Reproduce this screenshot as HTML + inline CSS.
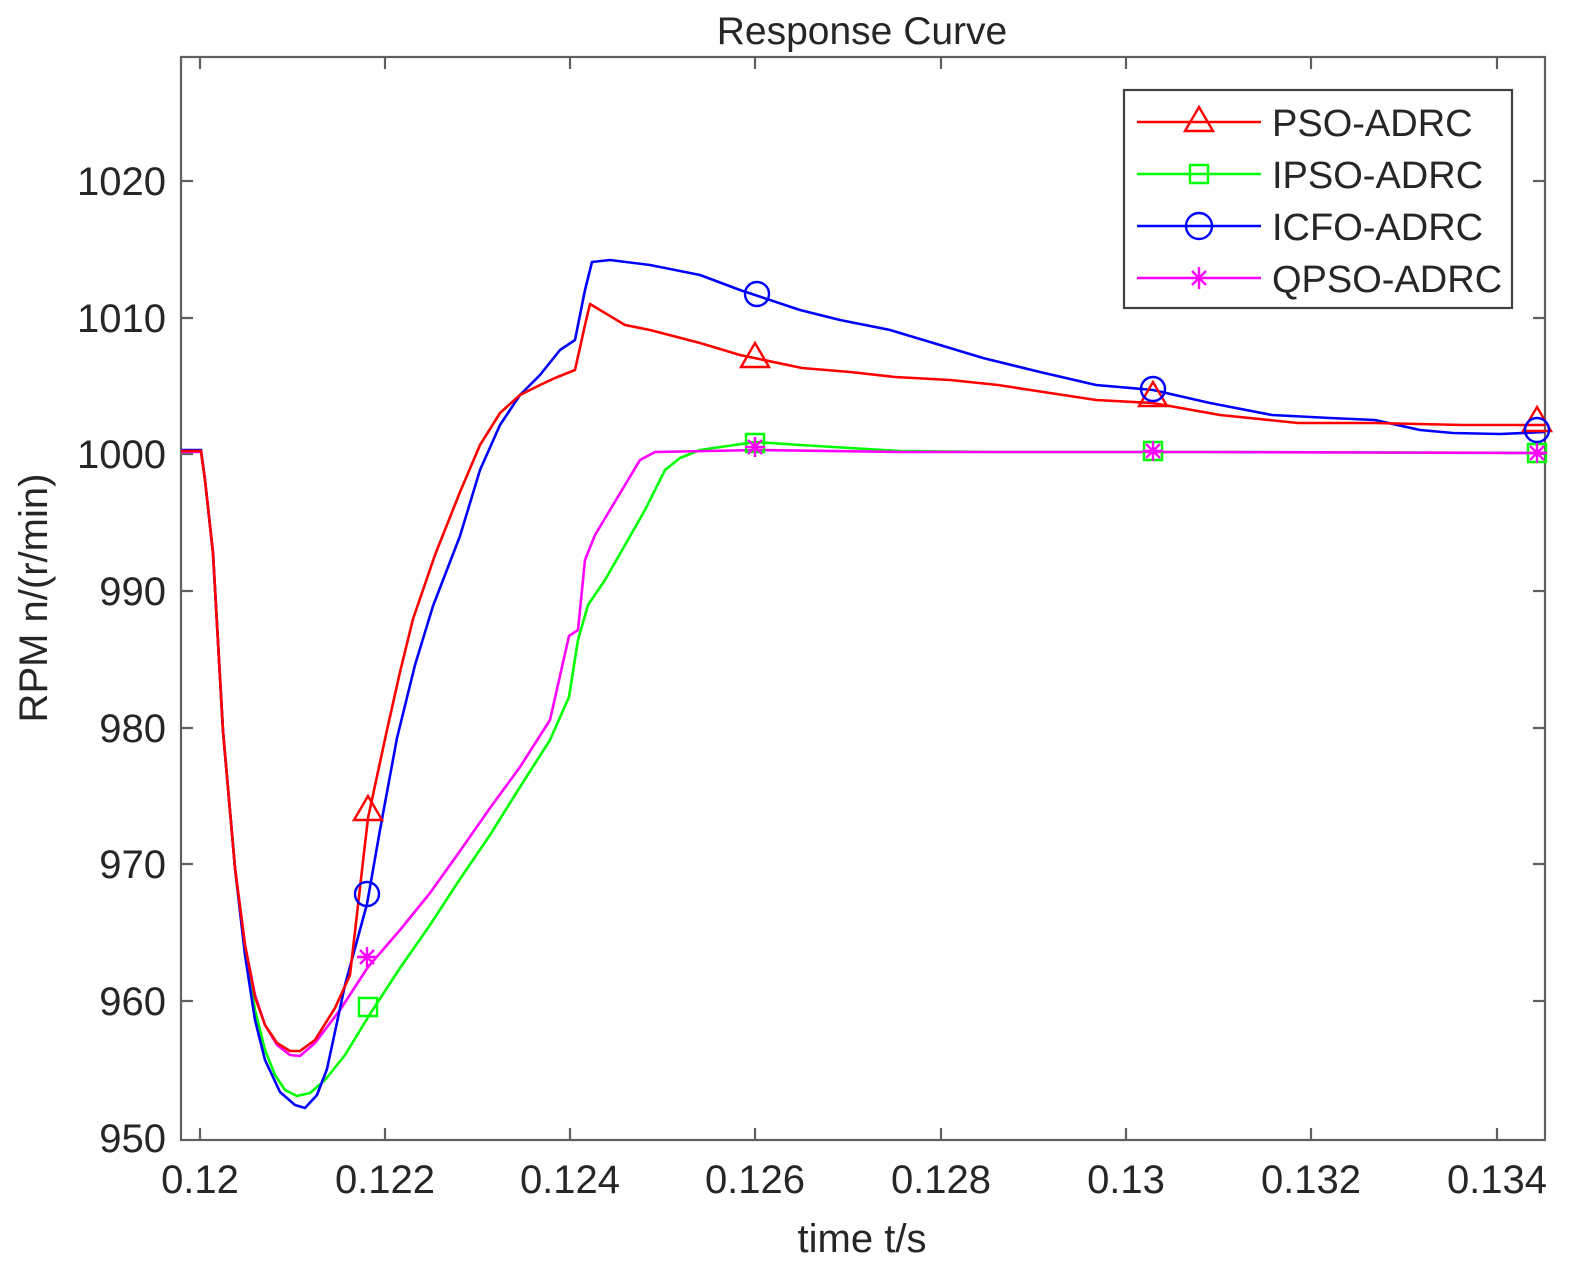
<!DOCTYPE html>
<html><head><meta charset="utf-8"><style>body{margin:0;background:#fff}svg text{font-family:"Liberation Sans",Arial,sans-serif;fill:#262626}</style></head>
<body>
<svg width="1582" height="1279" viewBox="0 0 1582 1279" xmlns="http://www.w3.org/2000/svg">
<rect width="1582" height="1279" fill="#fff"/>
<text x="862" y="44" font-size="39" text-anchor="middle" fill="#000">Response Curve</text>
<g stroke="#606060" stroke-width="2.2" fill="none">
<rect x="181" y="57" width="1364" height="1083"/>
<path d="M200 1140v-12M385 1140v-12M570 1140v-12M755 1140v-12M941 1140v-12M1126 1140v-12M1311 1140v-12M1497 1140v-12
M200 57v12M385 57v12M570 57v12M755 57v12M941 57v12M1126 57v12M1311 57v12M1497 57v12
M181 181h12M181 318h12M181 454h12M181 591h12M181 728h12M181 864h12M181 1001h12
M1545 181h-12M1545 318h-12M1545 454h-12M1545 591h-12M1545 728h-12M1545 864h-12M1545 1001h-12"/>
</g>
<g font-size="40" text-anchor="middle">
<text x="200" y="1193">0.12</text><text x="385" y="1193">0.122</text><text x="570" y="1193">0.124</text><text x="755" y="1193">0.126</text><text x="941" y="1193">0.128</text><text x="1126" y="1193">0.13</text><text x="1311" y="1193">0.132</text><text x="1497" y="1193">0.134</text>
</g>
<g font-size="40" text-anchor="end">
<text x="166" y="195">1020</text><text x="166" y="332">1010</text><text x="166" y="468">1000</text><text x="166" y="605">990</text><text x="166" y="742">980</text><text x="166" y="878">970</text><text x="166" y="1015">960</text><text x="166" y="1152">950</text>
</g>
<text x="862" y="1252" font-size="40" text-anchor="middle">time t/s</text>
<text transform="translate(47,598) rotate(-90)" font-size="40" text-anchor="middle">RPM n/(r/min)</text>
<g fill="none" stroke-width="2.6" stroke-linejoin="round">
<polyline stroke="#00ff00" points="181,452 201,452 205,480 213,553 223,731 235,868 245,950 255,1010 265,1050 275,1075 285,1090 297,1096 310,1093 325,1080 345,1055 370,1014 400,968 430,925 460,879 490,835 520,787 550,740 569,697 578,640 588,605 605,580 625,545 645,510 665,470 680,458 700,450 755,442 800,445 900,451 1000,452 1200,452 1545,453"/>
<polyline stroke="#ff00ff" points="181,452 201,452 205,480 213,553 223,731 235,868 245,945 255,995 265,1025 277,1045 290,1055 300,1056 315,1043 340,1010 368,967 400,930 430,893 460,851 490,808 520,767 550,720 569,636 578,630 585,560 595,535 610,510 625,485 640,460 655,452 760,450 900,452 1200,452 1545,453"/>
<polyline stroke="#0000ff" points="181,450 201,450 205,480 213,553 223,731 235,868 245,955 255,1020 265,1060 280,1092 295,1105 305,1108 317,1095 327,1069 345,985 367,904 380,830 397,738 415,665 433,606 460,536 480,470 500,425 520,395 540,375 560,350 575,340 585,290 592,262 610,260 650,265 700,275 740,290 755,295 800,310 840,320 890,330 940,345 983,358 1040,372 1096,385 1153,390 1210,403 1272,415 1330,418 1375,420 1420,430 1453,433 1500,434 1545,432"/>
<polyline stroke="#ff0000" points="181,451 201,451 205,480 213,553 223,731 235,868 245,945 255,997 265,1025 277,1043 290,1051 300,1051 315,1040 335,1008 350,975 368,818 387,730 400,672 413,619 435,555 460,492 480,445 500,413 520,395 540,385 555,378 575,370 585,325 590,304 600,310 625,325 650,330 700,343 740,355 802,368 850,372 895,377 950,380 998,385 1050,393 1096,400 1153,403 1220,415 1298,423 1375,423 1463,425 1545,425"/>
</g>
<g fill="none" stroke-width="2.4">
<path stroke="#ff0000" d="M368 796l14 24h-28zM755 343l14 24h-28zM1153 382l14 24h-28zM1537 407l14 24h-28z"/>
<path stroke="#00ff00" d="M359 998h18v18h-18zM746 434h18v18h-18zM1144 442h18v18h-18zM1528 444h18v18h-18z"/>
<g stroke="#0000ff"><circle cx="367" cy="894" r="12"/><circle cx="757" cy="294" r="12"/><circle cx="1153" cy="389" r="12"/><circle cx="1537" cy="430" r="12"/></g>
<path stroke="#ff00ff" d="M367 947v20M357 957h20M360 950l14 14M374 950l-14 14 M755 437v20M745 447h20M748 440l14 14M762 440l-14 14 M1153 441v20M1143 451h20M1146 444l14 14M1160 444l-14 14 M1537 443v20M1527 453h20M1530 446l14 14M1544 446l-14 14"/>
</g>
<rect x="1124" y="90" width="388" height="218" fill="#fff" stroke="#404040" stroke-width="2.2"/>
<g stroke-width="2.4" fill="none">
<path stroke="#ff0000" d="M1137 122h124M1199 107l14 24h-28z"/>
<path stroke="#00ff00" d="M1137 174h124M1190 165h18v18h-18z"/>
<path stroke="#0000ff" d="M1137 226h124"/><circle stroke="#0000ff" cx="1199" cy="226" r="13"/>
<path stroke="#ff00ff" d="M1137 278h124M1199 267v22M1188 278h22M1192 271l14 14M1206 271l-14 14"/>
</g>
<g font-size="38" fill="#000">
<text x="1272" y="136">PSO-ADRC</text><text x="1272" y="188">IPSO-ADRC</text><text x="1272" y="240">ICFO-ADRC</text><text x="1272" y="292">QPSO-ADRC</text>
</g>
</svg>
</body></html>
